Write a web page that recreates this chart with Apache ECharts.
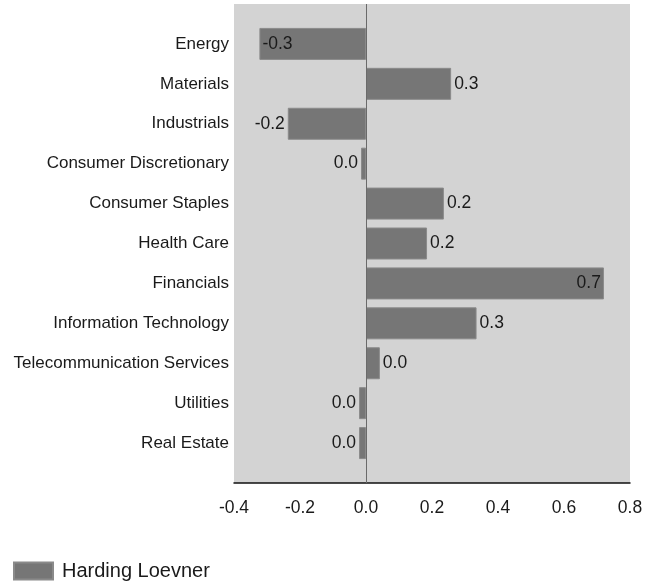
<!DOCTYPE html>
<html>
<head>
<meta charset="utf-8">
<script src="https://cdn.jsdelivr.net/npm/echarts@6/dist/echarts.min.js"></script>
<style>
  html, body { margin: 0; padding: 0; background: #ffffff; }
  #chart { width: 657px; height: 584px; }
</style>
</head>
<body>
<div id="chart"></div>
<script>
// Sector contribution, top to bottom
const sectors = [
  'Energy', 'Materials', 'Industrials', 'Consumer Discretionary',
  'Consumer Staples', 'Health Care', 'Financials', 'Information Technology',
  'Telecommunication Services', 'Utilities', 'Real Estate'
];
const values = [-0.323, 0.258, -0.237, -0.015, 0.236, 0.185, 0.721, 0.335, 0.042, -0.021, -0.021];
const seriesName = 'Harding Loevner';
const xTicks = [-0.4, -0.2, 0.0, 0.2, 0.4, 0.6, 0.8];

const xMin = xTicks[0];
const xMax = xTicks[xTicks.length - 1];
const FONT = '"Liberation Sans", Arial, sans-serif';
const TEXT = '#1a1a1a';

// Half-step padding above and below the first/last sector
const cats = [''].concat(sectors, ['']);

function fmt(v) {
  const r = Math.round(v * 10) / 10;
  return (r === 0 ? 0 : r).toFixed(1);
}

// Labels sit just beyond the bar end, or inside it when the plot edge is too close
const barData = values.map(v => {
  let pos;
  if (v >= 0) pos = (xMax - v) < 0.1 ? 'insideRight' : 'right';
  else pos = (v - xMin) < 0.1 ? 'insideLeft' : 'left';
  return { value: v, label: { position: pos } };
});

const chart = echarts.init(document.getElementById('chart'), null, { renderer: 'canvas' });
chart.setOption({
  animation: false,
  textStyle: { fontFamily: FONT },
  grid: {
    left: 234, right: 27, top: 4, bottom: 101,
    show: true, backgroundColor: '#d3d3d3', borderWidth: 0
  },
  legend: {
    left: 8, top: 556,
    icon: 'rect', itemWidth: 39, itemHeight: 17,
    data: [seriesName],
    textStyle: { fontFamily: FONT, fontSize: 20, color: TEXT, padding: [0, 0, 0, 4] }
  },
  xAxis: {
    type: 'value', min: xMin, max: xMax, interval: 0.2,
    axisLine: { show: true, onZero: false, lineStyle: { color: '#111', width: 1.5 } },
    axisTick: { show: false },
    splitLine: { show: false },
    axisLabel: {
      fontFamily: FONT, fontSize: 17.5, color: TEXT, margin: 16,
      formatter: v => v.toFixed(1)
    }
  },
  yAxis: {
    type: 'category', data: cats, inverse: true, boundaryGap: false,
    axisLine: { show: false },
    axisTick: { show: false },
    splitLine: { show: false },
    axisLabel: { fontFamily: FONT, fontSize: 17, color: TEXT, margin: 5, interval: 0 }
  },
  series: [{
    name: seriesName,
    type: 'bar',
    data: [null].concat(barData, [null]),
    barWidth: 32,
    itemStyle: { color: '#767676', borderColor: '#8a8a8a', borderWidth: 1 },
    label: {
      show: true, distance: 3,
      fontFamily: FONT, fontSize: 17.5, color: TEXT,
      formatter: p => fmt(p.value)
    },
    markLine: {
      silent: true, symbol: 'none',
      label: { show: false },
      lineStyle: { color: '#6a6a6a', width: 1, type: 'solid' },
      data: [{ xAxis: 0 }]
    }
  }]
});
</script>
</body>
</html>
